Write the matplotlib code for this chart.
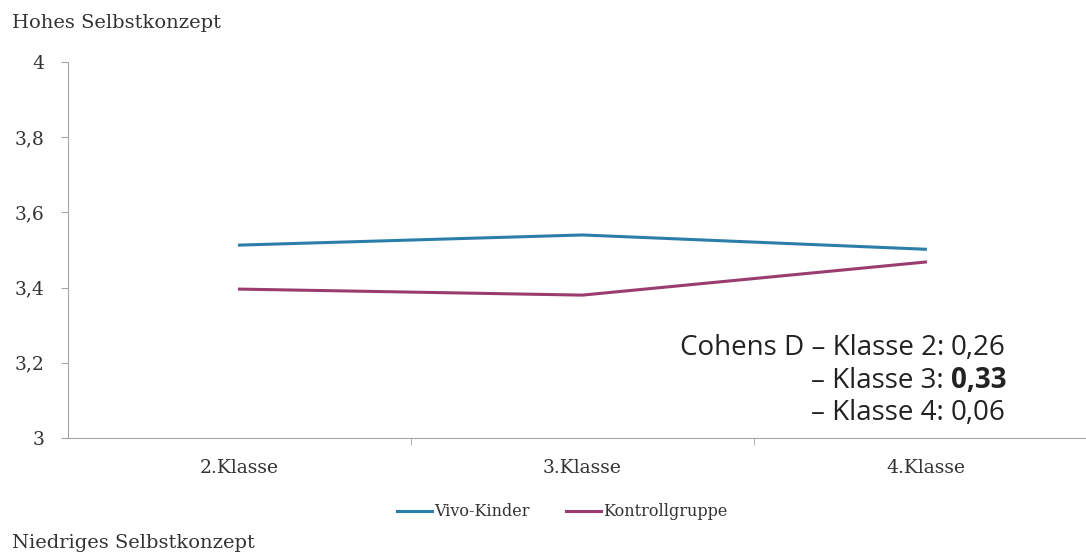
import matplotlib.pyplot as plt

klassen = ["2.Klasse", "3.Klasse", "4.Klasse"]
vivo = [3.513, 3.540, 3.502]
kontroll = [3.396, 3.380, 3.468]
yticks = [3.0, 3.2, 3.4, 3.6, 3.8, 4.0]
ytick_labels = ["3", "3,2", "3,4", "3,6", "3,8", "4"]
cohen_prefix = ["Cohens D – Klasse 2:", "– Klasse 3:", "– Klasse 4:"]
cohen_values = ["0,26", "0,33", "0,06"]
cohen_bold = [False, True, False]

serif = "DejaVu Serif"
sans = "Open Sans"
blue = "#2b7ea9"
purple = "#9a3d6e"
axis_gray = "#a6a6a6"
txt = "#333333"

fig = plt.figure(figsize=(10.86, 5.56), dpi=100)
ax = fig.add_axes([68 / 1086, 1 - 438 / 556, 1 - 68 / 1086 + 0.01, (438 - 62) / 556])

x = range(len(klassen))
ax.plot(x, vivo, color=blue, lw=2.2, label="Vivo-Kinder")
ax.plot(x, kontroll, color=purple, lw=2.2, label="Kontrollgruppe")

ax.set_xlim(-0.5, 2.5)
ax.set_ylim(3.0, 4.0)
ax.set_yticks(yticks)
ax.set_yticklabels(ytick_labels, fontfamily=serif, fontsize=13.5, color=txt)
ax.set_xticks(list(x))
ax.set_xticklabels(klassen, fontfamily=serif, fontsize=13.5, color=txt)
ax.set_xticks([0.5, 1.5], minor=True)
ax.tick_params(axis="x", which="major", length=0, pad=15)
ax.tick_params(axis="x", which="minor", length=5, color=axis_gray, direction="out")
ax.tick_params(axis="y", length=5, color=axis_gray, pad=12)
for s in ["top", "right"]:
    ax.spines[s].set_visible(False)
for s in ["left", "bottom"]:
    ax.spines[s].set_color(axis_gray)

fig.text(12 / 1086, 1 - 23 / 556, "Hohes Selbstkonzept", fontfamily=serif,
         fontsize=14, va="center", color=txt)
fig.text(12 / 1086, 1 - 543 / 556, "Niedriges Selbstkonzept", fontfamily=serif,
         fontsize=14, va="center", color=txt)

leg = fig.legend(loc="center", bbox_to_anchor=(562 / 1086, 1 - 512 / 556), ncol=2,
                 frameon=False, handlelength=2.2, handletextpad=0.1, columnspacing=2.3,
                 prop={"family": serif, "size": 11.5})
for t in leg.get_texts():
    t.set_color(txt)

ys = [348, 381, 413]
for pre, val, b, yy in zip(cohen_prefix, cohen_values, cohen_bold, ys):
    fig.text(944 / 1086, 1 - yy / 556, pre, fontfamily=sans, fontsize=20,
             ha="right", va="center", color="#222222")
    fig.text(951 / 1086, 1 - yy / 556, val, fontfamily=sans, fontsize=20,
             fontweight="bold" if b else "normal", ha="left", va="center", color="#222222")

fig.savefig("out.png", dpi=100)
